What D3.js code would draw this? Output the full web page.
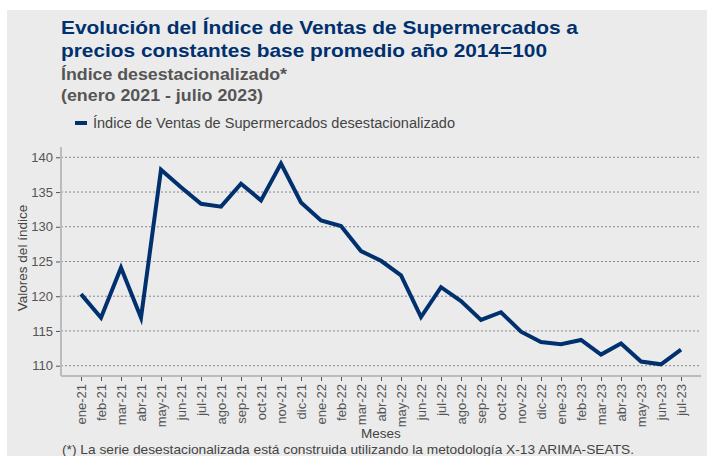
<!DOCTYPE html>
<html><head><meta charset="utf-8">
<script src="https://cdn.jsdelivr.net/npm/d3@7"></script>
<style>body{margin:0;background:#fff}svg{display:block}text{font-family:"Liberation Sans",Arial,sans-serif}</style>
</head><body>
<svg id="c" width="707" height="456"></svg>
<script>
const months = ["ene-21","feb-21","mar-21","abr-21","may-21","jun-21","jul-21","ago-21","sep-21","oct-21","nov-21","dic-21",
"ene-22","feb-22","mar-22","abr-22","may-22","jun-22","jul-22","ago-22","sep-22","oct-22","nov-22","dic-22",
"ene-23","feb-23","mar-23","abr-23","may-23","jun-23","jul-23"];
const values = [120.3,116.9,124.1,116.9,138.2,135.7,133.3,132.9,136.2,133.8,139.1,133.5,
130.9,130.1,126.5,125.1,123.0,117.0,121.3,119.3,116.6,117.7,114.9,113.4,
113.1,113.7,111.6,113.2,110.6,110.2,112.3];
const yTicks = [110,115,120,125,130,135,140];
const seriesName = "Índice de Ventas de Supermercados desestacionalizado";
const titleLines = ["Evolución del Índice de Ventas de Supermercados a","precios constantes base promedio año 2014=100"];
const subLines = ["Índice desestacionalizado*","(enero 2021 - julio 2023)"];
const xTitle = "Meses", yTitle = "Valores del índice";
const note = "(*)  La serie desestacionalizada está construida utilizando la metodología X-13 ARIMA-SEATS.";

const svg = d3.select("#c");
svg.append("rect").attr("x",7).attr("y",10).attr("width",700).attr("height",446).attr("fill","#ebebeb");

const blue = "#00306e";
const titleW = [517,486], subW = [226,202];
svg.selectAll("text.t").data(titleLines).join("text")
  .attr("x",61).attr("y",(d,i)=>34+i*23).attr("fill",blue)
  .attr("font-size",19).attr("font-weight","bold")
  .attr("textLength",(d,i)=>titleW[i]).attr("lengthAdjust","spacingAndGlyphs").text(d=>d);
svg.selectAll("text.s").data(subLines).join("text")
  .attr("x",61).attr("y",(d,i)=>80+i*21).attr("fill","#555")
  .attr("font-size",16).attr("font-weight","bold")
  .attr("textLength",(d,i)=>subW[i]).attr("lengthAdjust","spacingAndGlyphs").text(d=>d);

// legend
svg.append("line").attr("x1",75).attr("x2",87).attr("y1",123).attr("y2",123).attr("stroke",blue).attr("stroke-width",4);
svg.append("text").attr("x",93).attr("y",128).attr("font-size",14).attr("fill","#444")
  .attr("textLength",362).attr("lengthAdjust","spacingAndGlyphs").text(seriesName);

const L=61,R=701,T=147,B=376;
const x = d3.scalePoint().domain(months).range([L,R]).padding(1);
const y = d3.scaleLinear().domain([110,140]).range([365.7,157.3]);

// grid
svg.append("g").selectAll("line").data(yTicks).join("line")
  .attr("x1",L).attr("x2",R).attr("y1",d=>y(d)).attr("y2",d=>y(d))
  .attr("stroke","#888").attr("stroke-width",1).attr("stroke-dasharray","2,2");

// y axis
const ya = svg.append("g").attr("transform",`translate(${L},0)`).call(d3.axisLeft(y).tickValues(yTicks).tickSize(5).tickPadding(3));
ya.select(".domain").remove();
ya.selectAll(".tick line").attr("stroke","#555");
ya.selectAll(".tick text").attr("font-size",13).attr("fill","#555").attr("font-family","Liberation Sans, Arial, sans-serif");
svg.append("line").attr("x1",L).attr("x2",L).attr("y1",T).attr("y2",B).attr("stroke","#bbb").attr("stroke-width",2);

// x axis
const xa = svg.append("g").attr("transform",`translate(0,${B})`).call(d3.axisBottom(x).tickSize(5).tickPadding(3));
xa.select(".domain").remove();
xa.selectAll(".tick line").attr("stroke","#555");
xa.selectAll(".tick text").attr("font-size",13).attr("fill","#555").attr("font-family","Liberation Sans, Arial, sans-serif")
  .attr("transform","rotate(-90)").attr("text-anchor","end").attr("x",-8).attr("y",0).attr("dy","0.35em");
svg.append("line").attr("x1",L).attr("x2",R).attr("y1",B).attr("y2",B).attr("stroke","#bbb").attr("stroke-width",2);

// line
svg.append("path").datum(values.map((v,i)=>[months[i],v]))
  .attr("fill","none").attr("stroke",blue).attr("stroke-width",4).attr("stroke-linejoin","miter")
  .attr("d",d3.line().x(d=>x(d[0])).y(d=>y(d[1])));

svg.append("text").attr("x",381).attr("y",438).attr("text-anchor","middle").attr("font-size",13.5).attr("fill","#444").text(xTitle);
svg.append("text").attr("transform","translate(27,258) rotate(-90)").attr("text-anchor","middle").attr("font-size",13.5).attr("fill","#444").text(yTitle);
svg.append("text").attr("x",62).attr("y",454).attr("font-size",13).attr("fill","#444")
  .attr("textLength",572).attr("lengthAdjust","spacingAndGlyphs").text(note);
</script>
</body></html>
